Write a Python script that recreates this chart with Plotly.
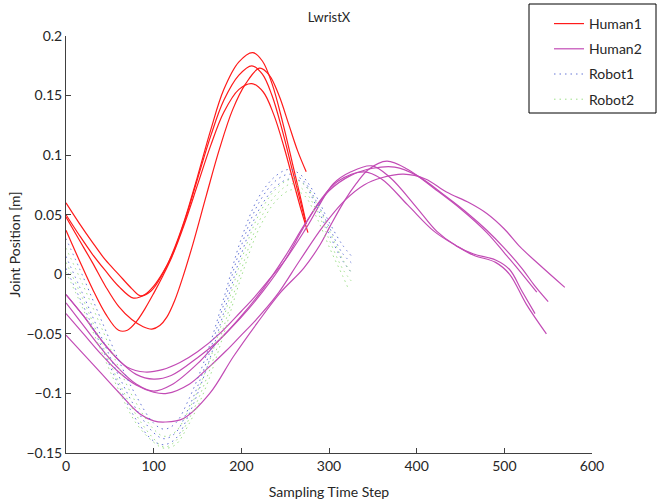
import plotly.graph_objects as go

# ---------------- data ----------------
x_ticks = [0, 100, 200, 300, 400, 500, 600]
y_ticks = [-0.15, -0.1, -0.05, 0, 0.05, 0.1, 0.15, 0.2]
y_tick_labels = ["\u22120.15", "\u22120.1", "\u22120.05", "0", "0.05", "0.1", "0.15", "0.2"]

# Human1 (4 demonstrations)
human1_steps = [
    [0, 15, 30, 45, 60, 75, 85, 97, 110, 121, 135, 150, 165, 180, 197, 213, 224, 235, 247, 258, 267, 273],
    [0, 15, 30, 45, 60, 77, 90, 100, 111, 121, 135, 150, 165, 180, 197, 212, 224, 235, 247, 258, 267, 274],
    [0, 15, 30, 45, 60, 75, 88, 98, 107, 115, 124, 133, 145, 160, 175, 190, 205, 221, 232, 243, 254, 264, 274],
    [0, 15, 30, 45, 60, 70, 80, 90, 100, 110, 121, 135, 150, 165, 180, 197, 212, 225, 237, 249, 260, 269, 276],
]
human1_values = [
    [0.060, 0.043, 0.027, 0.012, 0.000, -0.012, -0.018, -0.014, 0.000, 0.017, 0.045, 0.082, 0.121, 0.155, 0.178, 0.186, 0.179, 0.160, 0.128, 0.094, 0.066, 0.046],
    [0.050, 0.033, 0.017, 0.003, -0.010, -0.020, -0.017, -0.010, 0.002, 0.016, 0.044, 0.080, 0.116, 0.146, 0.167, 0.175, 0.168, 0.150, 0.120, 0.088, 0.062, 0.042],
    [0.048, 0.029, 0.010, -0.010, -0.027, -0.038, -0.044, -0.046, -0.043, -0.036, -0.022, -0.003, 0.026, 0.066, 0.105, 0.138, 0.160, 0.173, 0.167, 0.150, 0.126, 0.104, 0.086],
    [0.037, 0.012, -0.012, -0.033, -0.047, -0.047, -0.040, -0.029, -0.016, -0.002, 0.015, 0.042, 0.075, 0.108, 0.136, 0.155, 0.160, 0.153, 0.134, 0.106, 0.076, 0.052, 0.035],
]

# Human2 (5 demonstrations)
human2_steps = [
    [0, 20, 40, 55, 70, 90, 110, 130, 150, 175, 200, 214, 230, 250, 275, 305, 325, 349, 370, 400, 423, 445, 465, 490, 506, 520, 535],
    [0, 20, 40, 60, 80, 100, 120, 150, 175, 200, 225, 250, 275, 300, 325, 350, 375, 400, 434, 460, 480, 500, 520, 535, 550],
    [0, 20, 40, 60, 80, 100, 120, 150, 175, 200, 225, 250, 270, 290, 310, 340, 360, 390, 420, 445, 465, 490, 506, 525, 548],
    [0, 20, 40, 60, 80, 100, 115, 141, 160, 183, 200, 217, 240, 267, 293, 318, 340, 360, 385, 410, 434, 460, 480, 500, 518, 540, 569],
    [0, 20, 40, 60, 84, 100, 113, 134, 164, 191, 218, 245, 271, 290, 301, 318, 331, 345, 366, 390, 420, 450, 480, 500, 515, 537],
]
human2_values = [
    [-0.017, -0.035, -0.055, -0.068, -0.078, -0.082, -0.080, -0.074, -0.065, -0.050, -0.031, -0.020, -0.006, 0.012, 0.040, 0.076, 0.086, 0.091, 0.081, 0.056, 0.036, 0.024, 0.017, 0.012, 0.004, -0.014, -0.033],
    [-0.017, -0.035, -0.055, -0.072, -0.084, -0.088, -0.085, -0.070, -0.055, -0.035, -0.012, 0.015, 0.045, 0.070, 0.083, 0.089, 0.090, 0.083, 0.065, 0.050, 0.037, 0.022, 0.005, -0.010, -0.023],
    [-0.024, -0.043, -0.062, -0.079, -0.092, -0.098, -0.093, -0.075, -0.055, -0.036, -0.014, 0.012, 0.038, 0.062, 0.078, 0.086, 0.080, 0.058, 0.036, 0.024, 0.016, 0.010, 0.000, -0.025, -0.050],
    [-0.033, -0.050, -0.067, -0.082, -0.093, -0.099, -0.100, -0.092, -0.080, -0.064, -0.051, -0.038, -0.018, 0.012, 0.040, 0.062, 0.075, 0.081, 0.084, 0.080, 0.069, 0.060, 0.051, 0.038, 0.023, 0.008, -0.011],
    [-0.051, -0.067, -0.083, -0.099, -0.117, -0.123, -0.124, -0.121, -0.100, -0.069, -0.041, -0.015, 0.005, 0.025, 0.040, 0.062, 0.076, 0.088, 0.095, 0.088, 0.072, 0.055, 0.035, 0.018, 0.005, -0.015],
]

# Robot1 (3 reproductions)
robot1_steps = [
    [0, 20, 40, 60, 80, 100, 112, 125, 140, 160, 180, 200, 220, 240, 255, 270, 285, 300, 315, 326],
    [0, 20, 40, 60, 80, 100, 112, 125, 140, 160, 180, 200, 220, 240, 255, 270, 285, 300, 315, 328],
    [0, 20, 40, 60, 80, 100, 112, 125, 140, 160, 180, 200, 220, 240, 255, 270, 285, 300, 315, 325],
]
robot1_values = [
    [0.030, -0.003, -0.038, -0.072, -0.102, -0.125, -0.130, -0.125, -0.105, -0.068, -0.020, 0.030, 0.065, 0.083, 0.088, 0.082, 0.066, 0.044, 0.025, 0.015],
    [0.015, -0.018, -0.052, -0.085, -0.113, -0.133, -0.138, -0.133, -0.112, -0.074, -0.025, 0.024, 0.060, 0.079, 0.084, 0.079, 0.062, 0.040, 0.018, 0.008],
    [0.005, -0.027, -0.060, -0.093, -0.122, -0.140, -0.143, -0.138, -0.118, -0.080, -0.032, 0.017, 0.054, 0.074, 0.080, 0.077, 0.058, 0.034, 0.012, 0.002],
]

# Robot2 (3 reproductions)
robot2_steps = [
    [0, 20, 40, 60, 80, 100, 112, 125, 140, 160, 180, 200, 220, 240, 258, 272, 287, 302, 316, 327],
    [0, 20, 40, 60, 80, 100, 112, 125, 140, 160, 180, 200, 220, 240, 258, 272, 287, 302, 316, 328],
    [0, 20, 40, 60, 80, 100, 112, 125, 140, 160, 180, 200, 220, 240, 258, 272, 287, 302, 316, 322],
]
robot2_values = [
    [0.022, -0.010, -0.044, -0.078, -0.108, -0.130, -0.136, -0.132, -0.114, -0.080, -0.036, 0.012, 0.050, 0.072, 0.080, 0.075, 0.058, 0.034, 0.012, 0.000],
    [0.010, -0.022, -0.057, -0.090, -0.118, -0.138, -0.145, -0.140, -0.122, -0.088, -0.044, 0.004, 0.044, 0.067, 0.076, 0.070, 0.052, 0.026, 0.004, -0.008],
    [0.002, -0.030, -0.064, -0.097, -0.125, -0.141, -0.146, -0.143, -0.126, -0.094, -0.050, -0.002, 0.038, 0.062, 0.071, 0.066, 0.046, 0.020, -0.002, -0.012],
]

series = [
    ("Human1", human1_steps, human1_values, "#ff1a1a", "solid", 1.2),
    ("Human2", human2_steps, human2_values, "#c24bb5", "solid", 1.2),
    ("Robot1", robot1_steps, robot1_values, "#6677d6", "1.5px,4px", 1.0),
    ("Robot2", robot2_steps, robot2_values, "#9fe08a", "1.5px,4px", 1.0),
]

# ---------------- figure ----------------
fig = go.Figure()
for name, steps, vals, color, dash, width in series:
    for i, (t, v) in enumerate(zip(steps, vals)):
        fig.add_trace(go.Scatter(
            x=t, y=v, mode="lines", name=name,
            legendgroup=name, showlegend=(i == 0),
            line=dict(color=color, width=width, dash=dash, shape="spline", smoothing=1.0),
        ))

font_family = "Lato, 'Noto Sans', sans-serif"
fig.update_layout(
    width=658, height=500,
    margin=dict(l=66, r=66, t=36, b=47, autoexpand=False),
    paper_bgcolor="white", plot_bgcolor="white",
    font=dict(family=font_family, size=14, color="#262626"),
    title=dict(text="LwristX", x=0.5, xref="paper", xanchor="center",
               y=0.966, yref="container", yanchor="middle",
               font=dict(size=13, color="#262626")),
    legend=dict(x=549 / 658, y=1 - 8 / 500, xref="container", yref="container",
                xanchor="left", yanchor="top",
                borderwidth=0, bgcolor="rgba(255,255,255,0)",
                font=dict(size=14, color="#262626"), tracegroupgap=4,
                itemwidth=30),
    showlegend=True,
    shapes=[dict(type="rect", xref="paper", yref="paper",
                 x0=(529 - 66) / 526, x1=(656 - 66) / 526,
                 y0=(453 - 113) / 417, y1=(453 - 4) / 417,
                 line=dict(color="#000000", width=1), fillcolor="rgba(0,0,0,0)",
                 layer="below")],
)
fig.update_xaxes(
    range=[0, 600], tickvals=x_ticks, ticktext=[str(v) for v in x_ticks],
    showgrid=False, zeroline=False, showline=True, linecolor="#404040", linewidth=1,
    ticks="inside", ticklen=5, tickcolor="#404040", automargin=False,
    title=dict(text="Sampling Time Step", standoff=14, font=dict(size=14)),
)
fig.update_yaxes(
    range=[-0.15, 0.2], tickvals=y_ticks, ticktext=y_tick_labels,
    showgrid=False, zeroline=False, showline=True, linecolor="#404040", linewidth=1,
    ticks="inside", ticklen=5, tickcolor="#404040", automargin=False,
    title=dict(text="Joint Position [m]", standoff=2, font=dict(size=14)),
)

fig.write_html("out.html", config={"displayModeBar": False},
               post_script="document.body.style.margin='0px';")
